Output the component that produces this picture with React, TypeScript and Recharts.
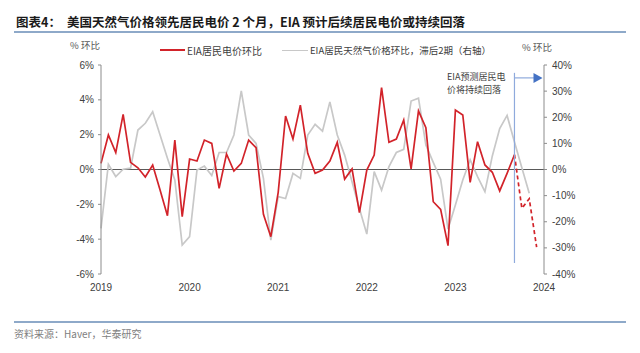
import React from 'react';
import { LineChart, Line, XAxis, YAxis, ReferenceLine } from 'recharts';

// Monthly index 0 = Jan 2019 ... 60 = Jan 2024
const yearTicks = [0, 12, 24, 36, 48, 60];
const yearLabels = ['2019', '2020', '2021', '2022', '2023', '2024'];
const leftTicks = [-6, -4, -2, 0, 2, 4, 6];
const rightTicks = [-40, -30, -20, -10, 0, 10, 20, 30, 40];

// EIA residential electricity price, MoM % (left axis), Jan 2019 - Sep 2023
const elecMoM = [
  0.35, 1.98, 0.97, 3.17, 0.41, 0.10, -0.43, 0.26, -1.18, -2.65, 1.69, -2.71,
  0.60, 0.49, 1.69, 1.50, -1.08, 0.89, -0.09, 0.35, 1.69, 1.25, -2.57, -3.86,
  -1.31, 3.07, 1.75, 3.70, 0.93, -0.22, -0.03, 0.49, 1.56, -0.55, 0.03, -2.48,
  -0.03, 0.83, 4.70, 1.56, 1.75, 2.84, 0.03, 3.36, 2.40, -1.85, -2.29, -4.37,
  3.41, 3.13, -0.74, 1.60, 0.26, -0.16, -1.23, -0.22, 0.85,
];
// EIA forecast (dashed), Sep 2023 - Dec 2023
const elecForecastStart = 56;
const elecForecast = [0.85, -2.23, -1.68, -4.45];

// EIA residential natural gas price MoM %, lagged 2 periods (right axis)
const gasMoMLag2 = [
  -22.5, 2.0, -2.7, 0.1, 0.5, 15.1, 17.7, 22.1, 13.2, 4.3, -4.0, -28.9,
  -25.7, -0.2, 1.3, -2.3, 6.5, 6.5, 13.2, 30.1, 13.2, 10.0, -3.4, -27.0,
  -10.4, -11.1, -1.5, -3.4, 13.2, 17.3, 14.7, 25.9, 13.2, 5.5, -4.7, -14.9,
  -24.7, -0.8, -7.9, 1.1, 6.5, 7.7, 26.2, 27.3, 9.4, 2.7, -3.7, -22.8,
  -13.6, -4.0, 3.7, -2.7, -8.5, 5.2, 15.7, 20.7, 10.5, 0.7, -9.1,
];

const rows = Array.from({ length: 61 }, (_, i) => ({
  idx: i,
  elec: i < elecMoM.length ? elecMoM[i] : null,
  fcst:
    i >= elecForecastStart && i < elecForecastStart + elecForecast.length
      ? elecForecast[i - elecForecastStart]
      : null,
  gas: i < gasMoMLag2.length ? gasMoMLag2[i] : null,
}));

const RED = '#D2232A';
const GRAY = '#C8C8C8';
const AXIS = '#8C8C8C';
const TICK = { fontSize: 10, fill: '#404040', fontFamily: '"Liberation Sans", Arial, sans-serif' };
const CJK = '"Noto Sans CJK SC", "Liberation Sans", sans-serif';

const ArrowShape = (props: any) => {
  const { x1, y1, x2, y2 } = props;
  return (
    <g>
      <line x1={x1} y1={y1} x2={x2 - 8} y2={y2} stroke="#8FAADC" strokeWidth={1.2} />
      <polygon points={`${x2},${y2} ${x2 - 9},${y2 - 5} ${x2 - 9},${y2 + 5}`} fill="#4472C4" />
    </g>
  );
};

export default function App() {
  return (
    <div style={{ position: 'absolute', left: 0, top: 0, width: 640, height: 353, background: '#fff', fontFamily: CJK }}>
      <LineChart width={640} height={353} data={rows} margin={{ top: 65, right: 46, bottom: 59, left: 0 }}>
        <XAxis
          dataKey="idx"
          type="number"
          domain={[0, 60]}
          ticks={yearTicks}
          interval={0}
          tickFormatter={(v: number) => yearLabels[yearTicks.indexOf(v)]}
          axisLine={false}
          tickLine={false}
          tickMargin={4}
          height={20}
          tick={TICK}
        />
        <YAxis
          yAxisId="left"
          domain={[-6, 6]}
          ticks={leftTicks}
          interval={0}
          width={101}
          tickFormatter={(v: number) => `${v}%`}
          axisLine={{ stroke: AXIS }}
          tickLine={{ stroke: AXIS }}
          tickSize={3}
          tickMargin={4}
          tick={TICK}
        />
        <YAxis
          yAxisId="right"
          orientation="right"
          domain={[-40, 40]}
          ticks={rightTicks}
          interval={0}
          width={50}
          tickFormatter={(v: number) => `${v}%`}
          axisLine={{ stroke: AXIS }}
          tickLine={{ stroke: AXIS }}
          tickSize={3}
          tickMargin={5}
          tick={TICK}
        />
        <ReferenceLine yAxisId="left" y={0} stroke="#595959" strokeWidth={1.2} />
        <Line yAxisId="right" dataKey="gas" stroke={GRAY} strokeWidth={1.7} dot={false} isAnimationActive={false} connectNulls={false} />
        <Line yAxisId="left" dataKey="elec" stroke={RED} strokeWidth={1.7} dot={false} isAnimationActive={false} connectNulls={false} />
        <Line yAxisId="left" dataKey="fcst" stroke={RED} strokeWidth={1.7} strokeDasharray="4 3" dot={false} isAnimationActive={false} connectNulls={false} />
        <ReferenceLine
          yAxisId="left"
          segment={[{ x: 56, y: 5.55 }, { x: 56, y: -5.37 }]}
          stroke="#8FAADC"
          strokeWidth={1.2}
        />
        <ReferenceLine
          yAxisId="left"
          segment={[{ x: 56, y: 5.26 }, { x: 59.8, y: 5.26 }]}
          shape={ArrowShape}
        />
      </LineChart>

      {/* Title */}
      <div style={{ position: 'absolute', left: 16, top: 14, fontSize: 12.5, fontWeight: 700, color: '#1a1a1a', whiteSpace: 'nowrap', lineHeight: '16px' }}>
        <span>图表4：</span>
        <span style={{ marginLeft: 6 }}>美国天然气价格领先居民电价 2 个月，EIA 预计后续居民电价或持续回落</span>
      </div>
      <div style={{ position: 'absolute', left: 14, top: 31, width: 612, height: 1.5, background: '#8EA9C9' }} />

      {/* Units */}
      <div style={{ position: 'absolute', left: 70, top: 38, fontSize: 9.5, color: '#595959', whiteSpace: 'nowrap' }}>% 环比</div>
      <div style={{ position: 'absolute', left: 522, top: 40, fontSize: 9.5, color: '#595959', whiteSpace: 'nowrap' }}>% 环比</div>

      {/* Legend */}
      <div style={{ position: 'absolute', left: 160, top: 49, width: 25, height: 2, background: RED }} />
      <div style={{ position: 'absolute', left: 187, top: 43, fontSize: 10, color: '#404040', whiteSpace: 'nowrap' }}>EIA居民电价环比</div>
      <div style={{ position: 'absolute', left: 282, top: 49.5, width: 26, height: 1.5, background: GRAY }} />
      <div style={{ position: 'absolute', left: 310, top: 43, fontSize: 9.5, color: '#404040', whiteSpace: 'nowrap' }}>EIA居民天然气价格环比，滞后2期（右轴）</div>

      {/* Annotation */}
      <div style={{ position: 'absolute', left: 447, top: 70, fontSize: 9, color: '#404040', lineHeight: '13px', whiteSpace: 'nowrap' }}>EIA预测居民电</div>
      <div style={{ position: 'absolute', left: 447, top: 83, fontSize: 9, color: '#404040', lineHeight: '13px', whiteSpace: 'nowrap' }}>价将持续回落</div>

      {/* Source */}
      <div style={{ position: 'absolute', left: 14, top: 321, width: 612, height: 1.5, background: '#8EA9C9' }} />
      <div style={{ position: 'absolute', left: 14, top: 326, fontSize: 10, color: '#808080', whiteSpace: 'nowrap' }}>资料来源：Haver，华泰研究</div>
    </div>
  );
}
